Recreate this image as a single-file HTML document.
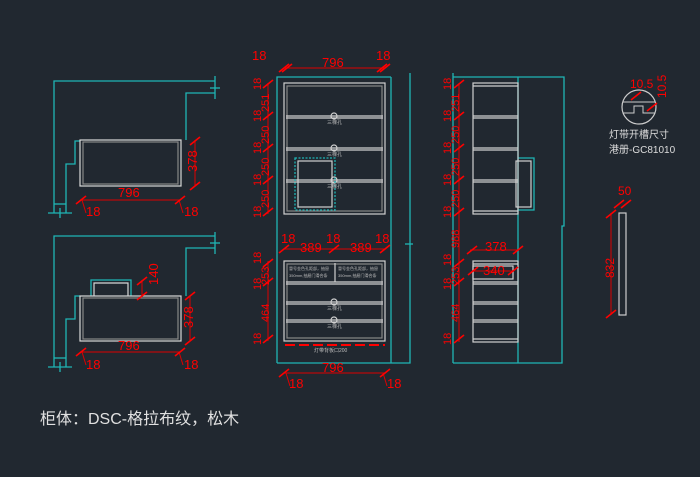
<!DOCTYPE html>
<html><head><meta charset="utf-8"><style>
html,body{margin:0;padding:0;background:#212830;}
svg{display:block}
text{font-family:"Liberation Sans","Noto Sans CJK SC",sans-serif;}
</style></head><body>
<svg width="700" height="477" viewBox="0 0 700 477" xmlns="http://www.w3.org/2000/svg">
<rect width="700" height="477" fill="#212830"/>
<defs>
<g id="tk"><line x1="-5" y1="4" x2="5" y2="-4" stroke="#f00" stroke-width="1.6"/></g>
</defs>

<g fill="none" stroke="#1fb5b5" stroke-width="1.3">
<polyline points="215,81 54,81 54,213"/>
<polyline points="215,93 186,93 186,140"/>
<line x1="215" y1="76" x2="215" y2="99"/><line x1="210" y1="88" x2="220" y2="88"/>
<polyline points="80,141 75,141 75,164 66,164 66,213"/>
<line x1="48" y1="213" x2="72" y2="213"/><line x1="54" y1="204" x2="66" y2="204"/>
<line x1="60" y1="208" x2="60" y2="218"/>
</g>
<g fill="none" stroke="#d8d8d8" stroke-width="1.2">
<rect x="80" y="140" width="101" height="46"/><rect x="83" y="142" width="95" height="42" stroke="#888"/>
</g>
<g stroke="#d00" stroke-width="1" fill="none">
<line x1="80" y1="200" x2="181" y2="200"/><line x1="195" y1="140" x2="195" y2="186"/>
<line x1="82" y1="200" x2="86" y2="213"/><line x1="179" y1="200" x2="183" y2="213"/>
</g>
<use href="#tk" x="81" y="200"/><use href="#tk" x="180" y="200"/><use href="#tk" x="195" y="141"/><use href="#tk" x="195" y="186"/>
<g fill="#f00" font-size="13">
<text x="118" y="197">796</text><text x="86" y="216">18</text><text x="184" y="216">18</text>
<text transform="rotate(-90 197 172)" x="197" y="172">378</text>
</g>

<g fill="none" stroke="#1fb5b5" stroke-width="1.3">
<polyline points="215,236 54,236 54,367"/>
<polyline points="215,248 186,248 186,296"/>
<line x1="215" y1="232" x2="215" y2="254"/><line x1="210" y1="243" x2="220" y2="243"/>
<polyline points="80,296 75,296 75,319 66,319 66,367"/>
<line x1="48" y1="367" x2="72" y2="367"/><line x1="54" y1="358" x2="66" y2="358"/>
<line x1="60" y1="362" x2="60" y2="372"/>
<polyline points="91,296 91,280 131,280 131,296"/>
</g>
<g fill="none" stroke="#d8d8d8" stroke-width="1.2">
<rect x="80" y="296" width="101" height="45"/><rect x="83" y="298" width="95" height="41" stroke="#888"/>
<polyline points="94,296 94,283 128,283 128,296"/>
</g>
<g stroke="#d00" stroke-width="1" fill="none">
<line x1="80" y1="352" x2="181" y2="352"/><line x1="190" y1="296" x2="190" y2="341"/>
<line x1="142" y1="280" x2="142" y2="296"/>
<line x1="82" y1="352" x2="86" y2="365"/><line x1="179" y1="352" x2="183" y2="365"/>
</g>
<use href="#tk" x="81" y="352"/><use href="#tk" x="180" y="352"/><use href="#tk" x="190" y="296"/><use href="#tk" x="190" y="341"/><use href="#tk" x="142" y="281"/><use href="#tk" x="142" y="296"/>
<g fill="#f00" font-size="13">
<text x="118" y="350">796</text><text x="86" y="369">18</text><text x="184" y="369">18</text>
<text transform="rotate(-90 193 328)" x="193" y="328">378</text>
<text transform="rotate(-90 158 285)" x="158" y="285">140</text>
</g>

<g fill="none" stroke="#1fb5b5" stroke-width="1.3">
<polyline points="277,363 277,77 391,77"/>
<line x1="391" y1="77" x2="391" y2="363"/>
<polyline points="410,73 410,363 277,363"/>
<line x1="405" y1="244" x2="413" y2="244"/>
</g>
<g fill="none" stroke="#d0d0d0" stroke-width="1.2">
<rect x="284" y="83" width="101" height="131"/><rect x="287" y="86" width="95" height="125" stroke="#888"/>
<line x1="286" y1="116" x2="383" y2="116"/><line x1="286" y1="118" x2="383" y2="118"/>
<line x1="286" y1="148" x2="383" y2="148"/><line x1="286" y1="150" x2="383" y2="150"/>
<line x1="286" y1="180" x2="383" y2="180"/><line x1="286" y1="182" x2="383" y2="182"/>
<circle cx="334" cy="116" r="3"/><circle cx="334" cy="148" r="3"/><circle cx="334" cy="180" r="3"/>
<rect x="298" y="161" width="34" height="46"/>
<rect x="284" y="261" width="101" height="80"/><rect x="287" y="264" width="95" height="74" stroke="#888"/>
<line x1="286" y1="282" x2="383" y2="282"/><line x1="286" y1="284" x2="383" y2="284"/>
<line x1="335" y1="263" x2="335" y2="282"/>
<line x1="286" y1="302" x2="383" y2="302"/><line x1="286" y1="304" x2="383" y2="304"/>
<line x1="286" y1="320" x2="383" y2="320"/><line x1="286" y1="322" x2="383" y2="322"/>
<circle cx="334" cy="302" r="3"/><circle cx="334" cy="320" r="3"/>
</g>
<rect x="295" y="158" width="40" height="52" fill="none" stroke="#1fb5b5" stroke-width="1.3" stroke-dasharray="2,1.5"/>
<line x1="285" y1="345" x2="385" y2="345" stroke="#f00" stroke-width="2" stroke-dasharray="10,4"/>
<g fill="#bbb" font-size="5">
<text x="327" y="124">三棵孔</text><text x="327" y="156">三棵孔</text><text x="327" y="188">三棵孔</text>
<text x="327" y="310">三棵孔</text><text x="327" y="328">三棵孔</text>
<text x="314" y="352">灯带背板口200</text>
</g>
<g fill="#bbb" font-size="4">
<text x="289" y="270">冒号金色孔距部，抽屉</text><text x="289" y="277">350mm,抽屉门滑合条</text>
<text x="338" y="270">冒号金色孔距部，抽屉</text><text x="338" y="277">350mm,抽屉门滑合条</text>
</g>
<g stroke="#d00" stroke-width="1" fill="none">
<line x1="284" y1="68" x2="385" y2="68"/><line x1="284" y1="249" x2="385" y2="249"/>
<line x1="284" y1="373" x2="385" y2="373"/>
<line x1="286" y1="373" x2="290" y2="386"/><line x1="383" y1="373" x2="387" y2="386"/>
<line x1="268" y1="83" x2="268" y2="214"/><line x1="268" y1="261" x2="268" y2="341"/>
</g>
<g>
<use href="#tk" x="284" y="68"/><use href="#tk" x="287" y="68"/><use href="#tk" x="382" y="68"/><use href="#tk" x="385" y="68"/>
<use href="#tk" x="284" y="249"/><use href="#tk" x="334" y="249"/><use href="#tk" x="385" y="249"/>
<use href="#tk" x="284" y="373"/><use href="#tk" x="385" y="373"/>
<use href="#tk" x="268" y="84"/><use href="#tk" x="268" y="116"/><use href="#tk" x="268" y="148"/><use href="#tk" x="268" y="180"/><use href="#tk" x="268" y="212"/>
<use href="#tk" x="268" y="263"/><use href="#tk" x="268" y="282"/><use href="#tk" x="268" y="339"/>
</g>
<g fill="#f00" font-size="13">
<text x="322" y="67">796</text><text x="252" y="60">18</text><text x="376" y="60">18</text>
<text x="300" y="252">389</text><text x="350" y="252">389</text>
<text x="281" y="243">18</text><text x="326" y="243">18</text><text x="375" y="243">18</text>
<text x="322" y="372">796</text><text x="289" y="388">18</text><text x="387" y="388">18</text>
<g font-size="11">
<text transform="rotate(-90 261 90)" x="261" y="90">18</text>
<text transform="rotate(-90 269 112)" x="269" y="112">251</text>
<text transform="rotate(-90 261 122)" x="261" y="122">18</text>
<text transform="rotate(-90 269 144)" x="269" y="144">250</text>
<text transform="rotate(-90 261 154)" x="261" y="154">18</text>
<text transform="rotate(-90 269 176)" x="269" y="176">250</text>
<text transform="rotate(-90 261 186)" x="261" y="186">18</text>
<text transform="rotate(-90 269 208)" x="269" y="208">250</text>
<text transform="rotate(-90 261 218)" x="261" y="218">18</text>
<text transform="rotate(-90 261 264)" x="261" y="264">18</text>
<text transform="rotate(-90 261 290)" x="261" y="290">18</text>
<text transform="rotate(-90 269 285)" x="269" y="285">253</text>
<text transform="rotate(-90 269 322)" x="269" y="322">464</text>
<text transform="rotate(-90 261 345)" x="261" y="345">18</text>
</g>
</g>

<g fill="none" stroke="#1fb5b5" stroke-width="1.3">
<line x1="453" y1="73" x2="453" y2="363"/>
<polyline points="453,77 564,77 564,226 562,226 562,363 453,363"/>
<line x1="518" y1="77" x2="518" y2="363"/>
<polyline points="518,158 534,158 534,210 518,210"/>
</g>
<g fill="none" stroke="#d0d0d0" stroke-width="1.2">
<rect x="473" y="83" width="45" height="131"/>
<line x1="473" y1="86" x2="518" y2="86"/><line x1="473" y1="211" x2="518" y2="211"/>
<line x1="473" y1="116" x2="518" y2="116"/><line x1="473" y1="118" x2="518" y2="118"/>
<line x1="473" y1="148" x2="518" y2="148"/><line x1="473" y1="150" x2="518" y2="150"/>
<line x1="473" y1="180" x2="518" y2="180"/><line x1="473" y1="182" x2="518" y2="182"/>
<rect x="516" y="161" width="15" height="46"/>
<rect x="473" y="261" width="45" height="81"/>
<line x1="473" y1="264" x2="518" y2="264"/><line x1="473" y1="339" x2="518" y2="339"/>
<rect x="473" y="266" width="40" height="13"/>
<line x1="473" y1="282" x2="518" y2="282"/><line x1="473" y1="284" x2="518" y2="284"/>
<line x1="473" y1="302" x2="518" y2="302"/><line x1="473" y1="304" x2="518" y2="304"/>
<line x1="473" y1="320" x2="518" y2="320"/><line x1="473" y1="322" x2="518" y2="322"/>
</g>
<g stroke="#d00" stroke-width="1" fill="none">
<line x1="459" y1="83" x2="459" y2="342"/>
<line x1="470" y1="250" x2="518" y2="250"/><line x1="472" y1="271" x2="513" y2="271"/>
</g>
<g>
<use href="#tk" x="459" y="84"/><use href="#tk" x="459" y="116"/><use href="#tk" x="459" y="148"/><use href="#tk" x="459" y="180"/><use href="#tk" x="459" y="212"/>
<use href="#tk" x="459" y="263"/><use href="#tk" x="459" y="282"/><use href="#tk" x="459" y="339"/>
<use href="#tk" x="472" y="250"/><use href="#tk" x="518" y="250"/><use href="#tk" x="473" y="271"/><use href="#tk" x="513" y="271"/>
</g>
<g fill="#f00" font-size="13">
<text x="485" y="251">378</text><text x="483" y="275">340</text>
<g font-size="11">
<text transform="rotate(-90 451 90)" x="451" y="90">18</text>
<text transform="rotate(-90 459 112)" x="459" y="112">251</text>
<text transform="rotate(-90 451 122)" x="451" y="122">18</text>
<text transform="rotate(-90 459 144)" x="459" y="144">250</text>
<text transform="rotate(-90 451 154)" x="451" y="154">18</text>
<text transform="rotate(-90 459 176)" x="459" y="176">250</text>
<text transform="rotate(-90 451 186)" x="451" y="186">18</text>
<text transform="rotate(-90 459 208)" x="459" y="208">250</text>
<text transform="rotate(-90 451 218)" x="451" y="218">18</text>
<text transform="rotate(-90 459 248)" x="459" y="248">988</text>
<text transform="rotate(-90 451 266)" x="451" y="266">18</text>
<text transform="rotate(-90 451 290)" x="451" y="290">18</text>
<text transform="rotate(-90 459 285)" x="459" y="285">253</text>
<text transform="rotate(-90 459 322)" x="459" y="322">464</text>
<text transform="rotate(-90 451 345)" x="451" y="345">18</text>
</g>
</g>

<circle cx="639" cy="107" r="17" fill="none" stroke="#ccc" stroke-width="1.2"/>
<polyline points="623,102 655,102" fill="none" stroke="#ccc" stroke-width="1"/>
<polyline points="623,113 634,113 634,106 643,106 643,113 655,113" fill="none" stroke="#ccc" stroke-width="1"/>
<use href="#tk" x="636" y="96"/><use href="#tk" x="652" y="107"/>
<g fill="#f00" font-size="12">
<text x="630" y="88">10.5</text>
<text transform="rotate(-90 666 98)" x="666" y="98">10.5</text>
<text x="618" y="195">50</text>
<text transform="rotate(-90 614 278)" x="614" y="278">832</text>
</g>
<g fill="#ddd" font-size="10"><text x="609" y="138">灯带开槽尺寸</text><text x="609" y="153">港册-GC81010</text></g>
<rect x="619" y="213" width="7" height="102" fill="none" stroke="#ccc" stroke-width="1.2"/>
<line x1="611" y1="213" x2="611" y2="315" stroke="#d00"/>
<use href="#tk" x="611" y="214"/><use href="#tk" x="611" y="314"/><use href="#tk" x="619" y="204"/><use href="#tk" x="626" y="204"/>

<text x="40" y="424" fill="#e0e0e0" font-size="16" font-family="'Liberation Mono','Noto Sans CJK SC',monospace">柜体：DSC-格拉布纹，松木</text>
</svg>
</body></html>
